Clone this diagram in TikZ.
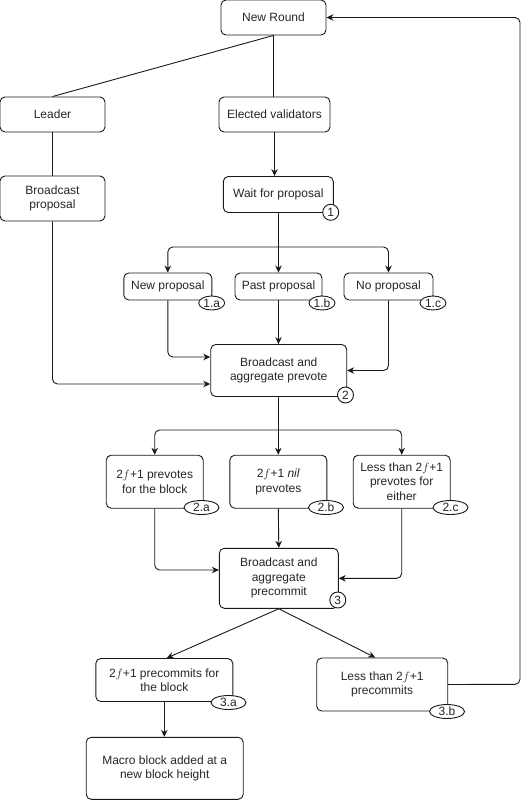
\documentclass[tikz,border=0pt]{standalone}
\usepackage{fontspec}
\setmainfont{Liberation Sans}
\usetikzlibrary{arrows.meta,shapes.geometric}
\begin{document}
\begin{tikzpicture}[x=1pt,y=-1pt,
  box/.style={draw=black!90, rounded corners=5pt, line width=0.9pt, align=center, inner sep=0pt,
    font=\fontsize{12}{14.5}\selectfont, text=black!85},
  ln/.style={draw=black!90, line width=0.9pt, rounded corners=5pt},
  arr/.style={ln, -{Stealth[length=7pt,width=6.5pt]}},
  tag/.style={draw=black!90, line width=0.9pt, ellipse, fill=white, inner sep=0pt,
    minimum width=35pt, minimum height=14pt, font=\fontsize{12}{12}\selectfont, text=black!85},
  tagc/.style={draw=black!90, line width=0.9pt, circle, fill=white, inner sep=0pt,
    minimum size=16pt, font=\fontsize{12}{12}\selectfont, text=black!85},
]
\useasboundingbox (0,0) rectangle (528,800);

% boxes
\node[box, minimum width=105pt, minimum height=35pt] (nr) at (273.5,17.5) {New Round};
\node[box, minimum width=105pt, minimum height=35pt] (leader) at (52.5,114.5) {Leader};
\node[box, minimum width=111pt, minimum height=35pt] (elected) at (274.5,114.5) {Elected validators};
\node[box, minimum width=105pt, minimum height=45pt] (bprop) at (52.5,198.5) {Broadcast\\proposal};
\node[box, minimum width=110pt, minimum height=36pt] (wait) at (278.3,194.5) {Wait for proposal};

\node[box, minimum width=88pt, minimum height=27pt] (newp) at (167.8,286.5) {New proposal};
\node[box, minimum width=87pt, minimum height=27pt] (pastp) at (278.5,286.5) {Past proposal};
\node[box, minimum width=89pt, minimum height=27pt] (nop) at (388.5,286.5) {No proposal};

\node[box, minimum width=136pt, minimum height=52pt] (prevote) at (278.7,370.5) {Broadcast and\\aggregate prevote};

\node[box, minimum width=97pt, minimum height=53pt] (b2a) at (154.7,481.7) {2$f$+1 prevotes\\for the block};
\node[box, minimum width=97pt, minimum height=53pt] (b2b) at (278.3,481.7) {2$f$+1 \textit{nil}\\prevotes};
\node[box, minimum width=97pt, minimum height=53pt] (b2c) at (401.7,481.7) {Less than 2$f$+1\\prevotes for\\either};

\node[box, minimum width=119pt, minimum height=60pt] (precommit) at (278.8,578.3) {Broadcast and\\aggregate\\precommit};

\node[box, minimum width=137pt, minimum height=43pt] (b3a) at (164.3,680) {2$f$+1 precommits for\\the block};
\node[box, minimum width=131pt, minimum height=53pt] (b3b) at (382.2,684.5) {Less than 2$f$+1\\precommits};
\node[box, minimum width=157pt, minimum height=62pt] (macro) at (164.7,768.3) {Macro block added at a\\new block height};

% connectors
\draw[ln] (nr.south) -- (leader.north);
\draw[ln] (nr.south) -- (nr.south |- elected.north);
\draw[ln] (leader.south) -- (bprop.north);
\draw[arr] (elected.south) -- (elected.south |- wait.north);

\coordinate (j1) at (278.5,247);
\draw[arr] (wait.south -| pastp.north) -- (pastp.north);
\draw[arr] (j1) -| (newp.north);
\draw[arr] (j1) -| (nop.north);

\draw[arr] (newp.south) |- ([yshift=13.5pt]prevote.west);
\draw[arr] (pastp.south) -- (pastp.south |- prevote.north);
\draw[arr] (nop.south) |- (prevote.east);
\draw[arr] (bprop.south) |- ([yshift=-13.5pt]prevote.west);

\coordinate (j2) at (278.3,430);
\draw[arr] (prevote.south -| b2b.north) -- (b2b.north);
\draw[arr] (j2) -| (b2a.north);
\draw[arr] (j2) -| (b2c.north);

\draw[arr] (b2a.south) |- ([yshift=8.3pt]precommit.west);
\draw[arr] (b2b.south) -- (precommit.north);
\draw[arr] (b2c.south) |- (precommit.east);

\draw[arr] (precommit.south) -- ([xshift=2.4pt]b3a.north);
\draw[arr] (precommit.south) -- ([xshift=-7pt]b3b.north);
\draw[arr] (b3a.south) -- (b3a.south |- macro.north);

\coordinate (rt) at (520,684.3);
\draw[arr] (b3b.east) -- (rt) |- (nr.east);

% tags
\node[tagc] (t1) at (330.7,212.3) {1};
\node[tag, minimum width=26pt] (t1a) at (211.7,303) {1.a};
\node[tag, minimum width=26pt] (t1b) at (322,303) {1.b};
\node[tag, minimum width=26pt] (t1c) at (433,303) {1.c};
\node[tagc] (t2) at (345.5,395) {2};
\node[tag] (t2a) at (201.5,507.5) {2.a};
\node[tag] (t2b) at (326,507.5) {2.b};
\node[tag] (t2c) at (450.5,507.5) {2.c};
\node[tagc] (t3) at (337.8,600) {3};
\node[tag] (t3a) at (228.5,702.5) {3.a};
\node[tag] (t3b) at (447,711.5) {3.b};
\end{tikzpicture}
\end{document}
